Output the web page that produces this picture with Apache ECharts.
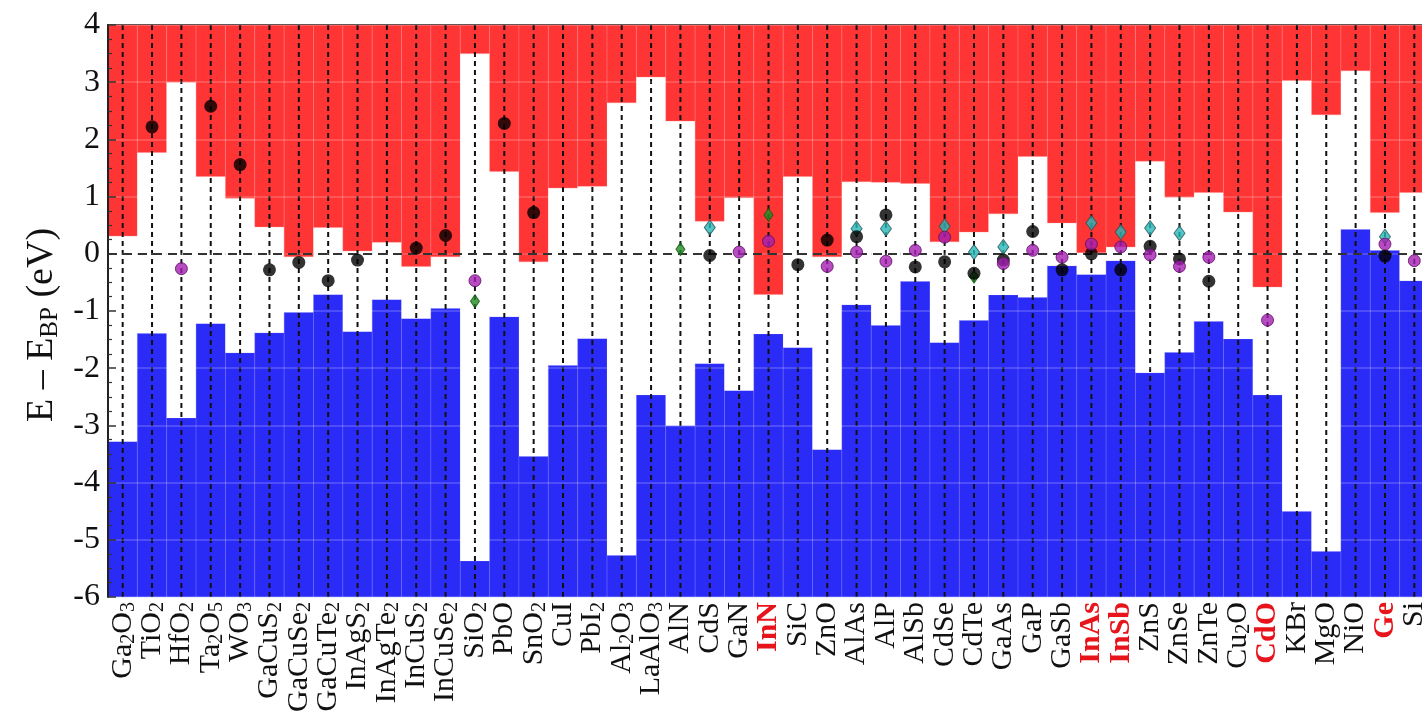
<!DOCTYPE html>
<html>
<head>
<meta charset="utf-8">
<script src="https://cdn.jsdelivr.net/npm/echarts@6/dist/echarts.min.js"></script>
<style>
  html, body { margin: 0; padding: 0; background: #fff; }
  #chart { width: 1422px; height: 720px; }
</style>
</head>
<body>
<div id="chart"></div>
<script>
// materials along the x axis
const categories = [
  'Ga2O3', 'TiO2', 'HfO2', 'Ta2O5', 'WO3', 'GaCuS2', 'GaCuSe2', 'GaCuTe2', 'InAgS2', 'InAgTe2',
  'InCuS2', 'InCuSe2', 'SiO2', 'PbO', 'SnO2', 'CuI', 'PbI2', 'Al2O3', 'LaAlO3', 'AlN',
  'CdS', 'GaN', 'InN', 'SiC', 'ZnO', 'AlAs', 'AlP', 'AlSb', 'CdSe', 'CdTe',
  'GaAs', 'GaP', 'GaSb', 'InAs', 'InSb', 'ZnS', 'ZnSe', 'ZnTe', 'Cu2O', 'CdO',
  'KBr', 'MgO', 'NiO', 'Ge', 'Si'
];
// labels printed in red bold
const highlighted = ['InN', 'InAs', 'InSb', 'CdO', 'Ge'];

// band edges relative to the branch point (eV)
const cbm = [
  0.31, 1.77, 3.00, 1.35, 0.97, 0.47, -0.05, 0.46, 0.05, 0.20,
  -0.22, -0.05, 3.50, 1.44, -0.14, 1.15, 1.18, 2.64, 3.09, 2.32,
  0.57, 0.98, -0.71, 1.35, -0.05, 1.26, 1.25, 1.23, 0.21, 0.38,
  0.70, 1.70, 0.54, 0.02, 0.12, 1.62, 0.99, 1.07, 0.73, -0.58,
  3.03, 2.43, 3.20, 0.72, 1.07
];
const vbm = [
  -3.28, -1.39, -2.87, -1.22, -1.73, -1.38, -1.02, -0.71, -1.36, -0.80,
  -1.13, -0.95, -5.37, -1.10, -3.54, -1.95, -1.48, -5.27, -2.47, -3.00,
  -1.92, -2.39, -1.40, -1.64, -3.42, -0.89, -1.25, -0.48, -1.55, -1.16,
  -0.72, -0.76, -0.21, -0.36, -0.12, -2.08, -1.72, -1.18, -1.49, -2.47,
  -4.50, -5.20, 0.43, 0.06, -0.47
];

// point markers: [category index, value]
const blackDots = [
  [1, 2.22], [3, 2.58], [4, 1.56], [5, -0.28], [6, -0.15], [7, -0.47], [8, -0.11], [10, 0.10],
  [11, 0.32], [13, 2.28], [14, 0.72], [20, -0.03], [23, -0.19], [24, 0.24], [25, 0.30], [26, 0.68],
  [27, -0.23], [28, -0.14], [29, -0.34], [30, -0.11], [31, 0.39], [32, -0.28], [33, 0.0],
  [34, -0.28], [35, 0.13], [36, -0.09], [37, -0.48], [43, -0.04]
];
const purpleDots = [
  [2, -0.26], [12, -0.47], [21, 0.03], [22, 0.22], [24, -0.22], [25, 0.03], [26, -0.13],
  [27, 0.06], [28, 0.29], [30, -0.17], [31, 0.06], [32, -0.06], [33, 0.17], [34, 0.12],
  [35, -0.02], [36, -0.22], [37, -0.06], [39, -1.16], [43, 0.17], [44, -0.12]
];
const cyanDiamonds = [
  [20, 0.46], [25, 0.44], [26, 0.44], [28, 0.48], [29, 0.03], [30, 0.12], [33, 0.54],
  [34, 0.38], [35, 0.45], [36, 0.36], [43, 0.30]
];
const greenDiamonds = [[12, -0.83], [19, 0.08], [22, 0.68], [29, -0.40]];

const Y_MIN = -6;
const Y_MAX = 4;
const RED = '#ff3434';
const BLUE = '#2b2bf8';
const FONT = "'Liberation Serif', 'Times New Roman', serif";

// Ga2O3 -> rich text with subscript digits
const labelFor = (name) => {
  const red = highlighted.includes(name);
  const n = red ? 'rn' : 'n';
  const s = red ? 'rs' : 's';
  return name.split(/(\d+)/).filter((p) => p !== '')
    .map((p) => (/^\d+$/.test(p) ? `{${s}|${p}}` : `{${n}|${p}}`)).join('');
};

const chart = echarts.init(document.getElementById('chart'));

const option = {
  animation: false,
  grid: { left: 108, top: 25, right: -7, bottom: 123, outerBoundsMode: 'none', containLabel: false },
  xAxis: [
    {
      type: 'category',
      data: categories,
      axisLine: { show: true, lineStyle: { color: '#222', width: 2 } },
      axisTick: { show: false },
      splitLine: { show: false },
      axisLabel: {
        interval: 0,
        rotate: 90,
        margin: 5,
        formatter: labelFor,
        rich: {
          n: { fontFamily: FONT, fontSize: 30, lineHeight: 32, color: '#111' },
          s: { fontFamily: FONT, fontSize: 20, lineHeight: 18, color: '#111', verticalAlign: 'bottom' },
          rn: { fontFamily: FONT, fontSize: 30, lineHeight: 32, color: '#e8141b', fontWeight: 'bold' },
          rs: { fontFamily: FONT, fontSize: 20, lineHeight: 18, color: '#e8141b', fontWeight: 'bold', verticalAlign: 'bottom' }
        }
      }
    },
    {
      type: 'category',
      position: 'top',
      data: categories,
      axisLine: { show: true, lineStyle: { color: '#222', width: 2 } },
      axisTick: { show: false },
      axisLabel: { show: false },
      splitLine: { show: false }
    }
  ],
  yAxis: {
    type: 'value',
    min: Y_MIN,
    max: Y_MAX,
    interval: 1,
    z: 3,
    name: '{n|E – E}{s|BP}{n| (eV)}',
    nameLocation: 'middle',
    nameGap: 44,
    nameTextStyle: {
      padding: [0, 28, 0, 0],
      rich: {
        n: { fontFamily: FONT, fontSize: 38, lineHeight: 40, color: '#111' },
        s: { fontFamily: FONT, fontSize: 25, lineHeight: 22, color: '#111', verticalAlign: 'bottom' }
      }
    },
    axisLine: { show: true, lineStyle: { color: '#222', width: 2 } },
    axisTick: { show: true, inside: true, length: 8, lineStyle: { color: '#333', width: 1.5 } },
    minorTick: { show: true, splitNumber: 4, length: 4, lineStyle: { color: '#333', width: 1.2 } },
    splitLine: { show: true, lineStyle: { color: 'rgba(255,255,255,0.22)', width: 1.5 } },
    axisLabel: { fontFamily: FONT, fontSize: 32, color: '#111', margin: 8 }
  },
  series: [
    {
      type: 'custom',
      z: 2,
      renderItem: (params, api) => {
        const i = api.value(0);
        const x = api.coord([i, 0])[0];
        const w = api.size([1, 0])[0];
        const yTop = api.coord([i, Y_MAX])[1];
        const yBot = api.coord([i, Y_MIN])[1];
        const yV = api.coord([i, api.value(1)])[1];
        const yC = api.coord([i, api.value(2)])[1];
        const x0 = x - w / 2;
        return {
          type: 'group',
          children: [
            { type: 'rect', shape: { x: x0, y: yV, width: w, height: yBot - yV },
              style: { fill: BLUE, stroke: 'rgba(120,120,255,0.35)', lineWidth: 1 } },
            { type: 'rect', shape: { x: x0, y: yC, width: w, height: yV - yC },
              style: { fill: '#fff' } },
            { type: 'rect', shape: { x: x0, y: yTop, width: w, height: yC - yTop },
              style: { fill: RED, stroke: 'rgba(255,140,140,0.35)', lineWidth: 1 } },
            { type: 'line', shape: { x1: x, y1: yTop, x2: x, y2: yBot },
              style: { stroke: '#111', lineWidth: 2, lineDash: [5, 4] } }
          ]
        };
      },
      data: categories.map((c, i) => [i, vbm[i], cbm[i]]),
      markLine: {
        z: 3,
        silent: true,
        symbol: 'none',
        label: { show: false },
        lineStyle: { color: '#333', width: 2, type: [9, 6] },
        data: [{ yAxis: 0 }]
      }
    },
    {
      type: 'scatter', z: 6, data: greenDiamonds, symbol: 'diamond', symbolSize: [9, 13],
      itemStyle: { color: '#1f8f1f', borderColor: '#145214', borderWidth: 1 }
    },
    {
      type: 'scatter', z: 6, data: cyanDiamonds, symbol: 'diamond', symbolSize: [11, 15],
      itemStyle: { color: '#24b8b8', borderColor: '#2a5050', borderWidth: 1 }
    },
    {
      type: 'scatter', z: 7, data: blackDots, symbol: 'circle', symbolSize: 13,
      itemStyle: { color: '#000' }
    },
    {
      type: 'scatter', z: 8, data: purpleDots, symbol: 'circle', symbolSize: 12,
      itemStyle: { color: '#a51fb3', borderColor: '#5a1060', borderWidth: 1 }
    }
  ]
};

chart.setOption(option);
window.addEventListener('resize', () => chart.resize());
</script>
</body>
</html>
